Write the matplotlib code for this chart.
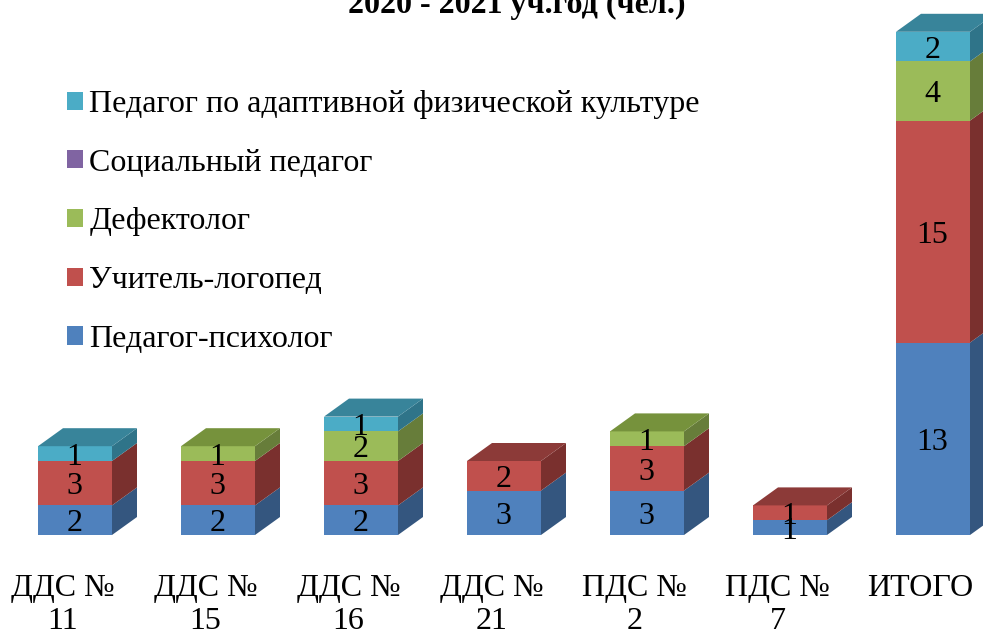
import numpy as np
import matplotlib
matplotlib.use("Agg")
import matplotlib.pyplot as plt

plt.rcParams['font.family'] = ['Liberation Serif', 'DejaVu Serif']

title = "2020 - 2021 уч.год (чел.)"
categories = ["ДДС №\n11", "ДДС №\n15", "ДДС №\n16", "ДДС №\n21", "ПДС №\n2", "ПДС №\n7", "ИТОГО"]
series_names = ["Педагог-психолог", "Учитель-логопед", "Дефектолог",
                "Социальный педагог", "Педагог по адаптивной физической культуре"]
psychologist = [2, 2, 2, 3, 3, 1, 13]
speech = [3, 3, 3, 2, 3, 1, 15]
defect = [0, 1, 2, 0, 1, 0, 4]
social = [0, 0, 0, 0, 0, 0, 0]
adaptive = [1, 0, 1, 0, 0, 0, 2]
series = [psychologist, speech, defect, social, adaptive]

front = ["#4F81BD", "#C0504D", "#9BBB59", "#8064A2", "#4BACC6"]
side = ["#34567F", "#7A302E", "#677D3A", "#554370", "#2F7489"]
top = ["#3F6797", "#8C3A38", "#76923C", "#665082", "#38849A"]

W, H = 983, 632
BASE_PX = 535
PX_PER_UNIT = 14.8
PX_PER_CAT = 143.0
CENTER0_PX = 75.0
BAR_W = 74 / PX_PER_CAT
DX = 25 / PX_PER_CAT
DY = 18 / PX_PER_UNIT
LABEL_SHIFT = 12.5 / PX_PER_CAT

fig = plt.figure(figsize=(W / 100, H / 100), dpi=100, facecolor="white")
ax = fig.add_axes([0, (H - BASE_PX) / H, 1, BASE_PX / H])
ax.set_xlim(-CENTER0_PX / PX_PER_CAT, (W - CENTER0_PX) / PX_PER_CAT)
ax.set_ylim(0, BASE_PX / PX_PER_UNIT)

x = np.arange(len(categories))
bottoms = np.zeros(len(categories))
handles = []
for k, vals in enumerate(series):
    vals = np.array(vals, dtype=float)
    h = ax.bar(x, vals, BAR_W, bottom=bottoms, color=front[k], label=series_names[k],
               linewidth=0, clip_on=False, zorder=3)
    handles.append(h)
    for i in x:
        if vals[i] == 0:
            continue
        r = i + BAR_W / 2
        y0, y1 = bottoms[i], bottoms[i] + vals[i]
        ax.fill([r, r + DX, r + DX, r], [y0, y0 + DY, y1 + DY, y1],
                color=side[k], linewidth=0, zorder=3)
        ax.annotate(f"{int(vals[i])}", (i, (y0 + y1) / 2), xytext=(-0.3, -2.6),
                    textcoords="offset points", ha="center", va="center",
                    fontsize=23, color="black", zorder=5)
    bottoms = bottoms + vals

# top faces use the colour of the highest non-empty segment
for i in x:
    top_k = max(k for k, v in enumerate(series) if v[i] > 0)
    l, r = i - BAR_W / 2, i + BAR_W / 2
    t = bottoms[i]
    ax.fill([l, r, r + DX, l + DX], [t, t, t + DY, t + DY],
            color=top[top_k], linewidth=0, zorder=3)

ax.set_xticks(x - LABEL_SHIFT)
ax.set_xticklabels(categories, fontsize=23, linespacing=1.2)
ax.tick_params(axis="x", length=0, pad=28)
ax.set_yticks([])
for s in ax.spines.values():
    s.set_visible(False)

ax.set_title(title, x=517 / W, y=(BASE_PX - 13) / BASE_PX, pad=0,
             fontsize=23, fontweight="bold")

leg = ax.legend(handles[::-1], series_names[::-1], loc="upper left",
                bbox_to_anchor=(67 / W, (BASE_PX - 90) / BASE_PX),
                frameon=False, fontsize=23, handlelength=0.5, handleheight=0.5,
                handletextpad=0.2, labelspacing=0.93, borderpad=0, borderaxespad=0)

fig.savefig("out.png", dpi=100)
